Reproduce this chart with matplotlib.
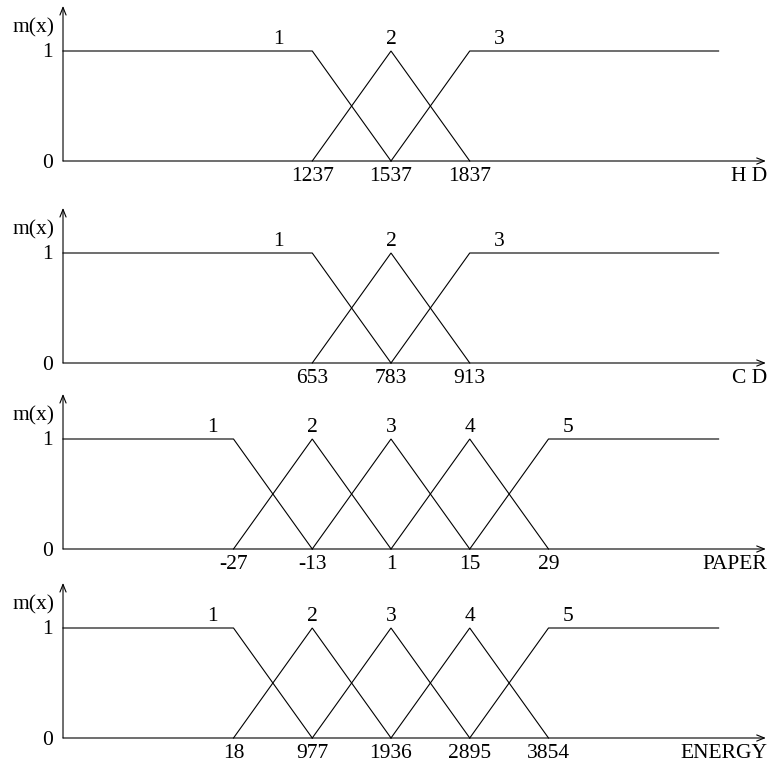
import numpy as np
from matplotlib import pyplot as plt

plt.rcParams['font.family'] = ['Liberation Serif', 'DejaVu Serif']

# breakpoint values shown under each x axis
hd_ticks = ['1237', '1537', '1837']
cd_ticks = ['653', '783', '913']
paper_ticks = ['-27', '-13', '1', '15', '29']
energy_ticks = ['18', '977', '1936', '2895', '3854']
axis_names = ['H D', 'C D', 'PAPER', 'ENERGY']
all_ticks = [hd_ticks, cd_ticks, paper_ticks, energy_ticks]

# horizontal nudge of the set numbers 1..n (first and last ones sit off the peak)
label_shift_first = [-0.43, -0.43, -0.27, -0.27]
label_shift_last = [0.37, 0.37, 0.25, 0.25]

W, H = 768, 764
unit = 78.75          # px between breakpoints
cx = 391              # px of the middle breakpoint
zero_px = [161, 363, 549, 738]
ppu = 110             # px per membership unit
ylo, yhi = -0.3, 1.5

fig = plt.figure(figsize=(W / 100, H / 100), dpi=100)

x_left = -4.165
x_right = 4.16
x_arrow = 4.76
fs = 15.5

for i, ticks in enumerate(all_ticks):
    n = len(ticks)
    pos = np.arange(n) - (n - 1) / 2.0
    bottom = (zero_px[i] + (-ylo) * ppu)
    height = (yhi - ylo) * ppu
    ax = fig.add_axes([0, 1 - bottom / H, 1, height / H])
    ax.set_xlim(-cx / unit, (W - cx) / unit)
    ax.set_ylim(ylo, yhi)
    ax.axis('off')

    lw = 0.8
    # membership functions
    for k in range(n):
        if k == 0:
            xs = [x_left, pos[0], pos[1]]
            ys = [1, 1, 0]
        elif k == n - 1:
            xs = [pos[n - 2], pos[n - 1], x_right]
            ys = [0, 1, 1]
        else:
            xs = [pos[k - 1], pos[k], pos[k + 1]]
            ys = [0, 1, 0]
        ax.plot(xs, ys, color='black', lw=lw, solid_joinstyle='miter')

        lx = pos[k]
        if k == 0:
            lx += label_shift_first[i]
        elif k == n - 1:
            lx += label_shift_last[i]
        ax.text(lx, 1.065, str(k + 1), ha='center', va='baseline', fontsize=fs)

    # axes with arrows
    ax.annotate('', xy=(x_arrow, 0), xytext=(x_left, 0),
                arrowprops=dict(arrowstyle='->,head_length=0.55,head_width=0.22',
                                lw=lw, color='black', shrinkA=0, shrinkB=0))
    ax.annotate('', xy=(x_left, 1.41), xytext=(x_left, 0),
                arrowprops=dict(arrowstyle='->,head_length=0.55,head_width=0.22',
                                lw=lw, color='black', shrinkA=0, shrinkB=0))

    # tick labels
    for p, t in zip(pos, ticks):
        ax.text(p, -0.055, t, ha='center', va='top', fontsize=fs)
    ax.text((767 - cx) / unit, -0.055, axis_names[i], ha='right', va='top', fontsize=fs)

    ax.text(-4.29, 0.99, '1', ha='right', va='center', fontsize=fs)
    ax.text(-4.29, -0.025, '0', ha='right', va='center', fontsize=fs)
    ax.text(-4.54, 1.21, 'm(x)', ha='center', va='center', fontsize=fs)

fig.savefig('out.png', dpi=100)
